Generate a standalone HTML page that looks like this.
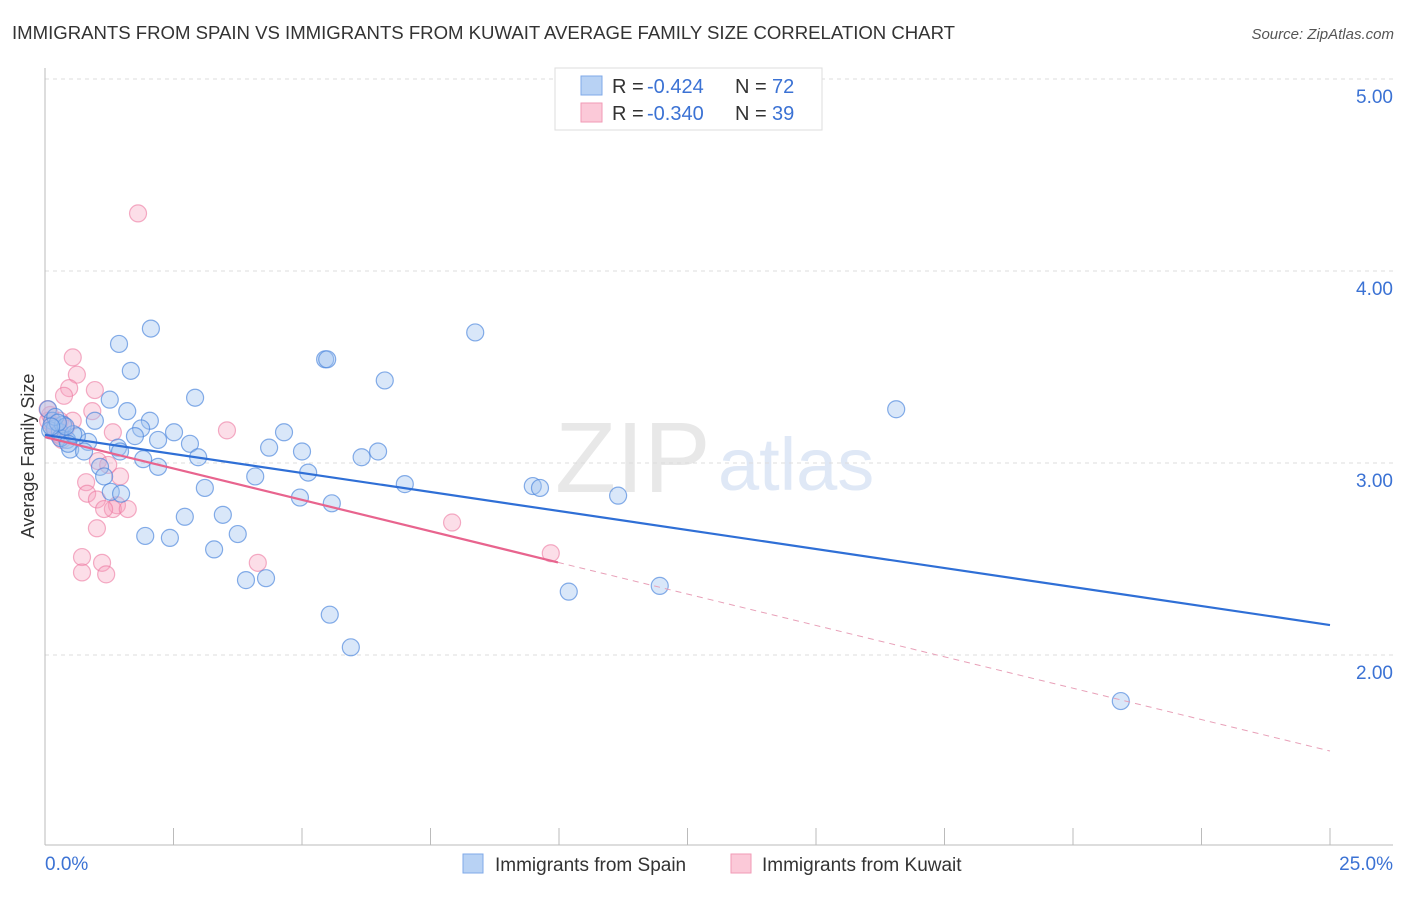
<!DOCTYPE html>
<html><head><meta charset="utf-8"><style>
body{margin:0;background:#fff;font-family:"Liberation Sans",sans-serif;}
svg text{font-family:"Liberation Sans",sans-serif;}
</style></head><body>
<svg id="chart" width="1406" height="892">
<text x="12" y="39" font-size="18.6" fill="#333" textLength="943">IMMIGRANTS FROM SPAIN VS IMMIGRANTS FROM KUWAIT AVERAGE FAMILY SIZE CORRELATION CHART</text>
<text x="1394" y="39" font-size="15" fill="#555" text-anchor="end" font-style="italic">Source: ZipAtlas.com</text>
<text x="555" y="492" font-size="100" fill="#e8e8e8" font-family="Liberation Serif">ZIP</text>
<text x="718" y="490" font-size="74" fill="#dfe8f6">atlas</text>
<g id="grid"></g><g id="axes"></g><g id="marks"></g>
<text x="34" y="456" font-size="18" fill="#333" text-anchor="middle" transform="rotate(-90 34 456)">Average Family Size</text>
<g>
<rect x="555" y="68" width="267" height="62" fill="#fff" stroke="#ddd"/>
<rect x="581" y="76" width="21" height="19" fill="#b8d2f4" stroke="#7fa9e8"/>
<rect x="581" y="103" width="21" height="19" fill="#fbc9d8" stroke="#f19ab6"/>
<text x="612" y="93" font-size="20" fill="#333">R =</text>
<text x="647" y="93" font-size="20" fill="#3b72d4">-0.424</text>
<text x="735" y="93" font-size="20" fill="#333">N =</text>
<text x="772" y="93" font-size="20" fill="#3b72d4">72</text>
<text x="612" y="120" font-size="20" fill="#333">R =</text>
<text x="647" y="120" font-size="20" fill="#3b72d4">-0.340</text>
<text x="735" y="120" font-size="20" fill="#333">N =</text>
<text x="772" y="120" font-size="20" fill="#3b72d4">39</text>
</g>
<g>
<rect x="463" y="854" width="20" height="19" fill="#b8d2f4" stroke="#7fa9e8"/>
<text x="495" y="871" font-size="19" fill="#333">Immigrants from Spain</text>
<rect x="731" y="854" width="20" height="19" fill="#fbc9d8" stroke="#f19ab6"/>
<text x="762" y="871" font-size="19" fill="#333">Immigrants from Kuwait</text>
</g>
</svg>
<script>
const yTicks=[2,3,4,5];
const yTickLabels=["2.00","3.00","4.00","5.00"];
const xLabels=["0.0%","25.0%"];
const spainX=[2.06,1.44,1.67,2.92,1.26,1.60,2.04,0.97,1.87,2.51,2.20,1.75,2.82,1.42,0.84,0.62,0.43,0.49,0.76,1.46,2.98,1.91,2.20,1.07,1.15,3.11,1.28,1.48,2.72,3.46,1.95,2.43,3.75,3.29,3.91,4.30,5.54,5.95,4.09,4.36,4.65,5.00,5.12,4.96,5.58,5.45,5.49,6.61,6.16,6.48,7.00,8.37,9.49,9.63,11.15,10.19,11.96,16.56,20.93,0.06,0.14,0.19,0.29,0.10,0.35,0.20,0.30,0.55,0.40,0.25,0.12,0.45];
const spainY=[3.70,3.62,3.48,3.34,3.33,3.27,3.22,3.22,3.18,3.16,3.12,3.14,3.10,3.08,3.11,3.14,3.12,3.07,3.06,3.06,3.03,3.02,2.98,2.98,2.93,2.87,2.85,2.84,2.72,2.73,2.62,2.61,2.63,2.55,2.39,2.40,2.21,2.04,2.93,3.08,3.16,3.06,2.95,2.82,2.79,3.54,3.54,3.43,3.03,3.06,2.89,3.68,2.88,2.87,2.83,2.33,2.36,3.28,1.76,3.28,3.22,3.18,3.16,3.17,3.20,3.24,3.13,3.15,3.19,3.21,3.19,3.10];
const kuwaitX=[1.81,0.54,0.62,0.47,0.97,0.37,0.92,0.54,3.54,1.32,0.29,0.19,1.03,1.23,1.46,0.80,0.82,1.01,1.40,1.32,1.15,1.61,1.01,0.72,1.11,0.72,1.19,4.14,7.92,9.84,0.06,0.14,0.25,0.33,0.10,0.40,0.20,0.05,0.30];
const kuwaitY=[4.30,3.55,3.46,3.39,3.38,3.35,3.27,3.22,3.17,3.16,3.22,3.17,3.01,2.99,2.93,2.90,2.84,2.81,2.78,2.76,2.76,2.76,2.66,2.51,2.48,2.43,2.42,2.48,2.69,2.53,3.22,3.20,3.15,3.12,3.25,3.18,3.19,3.28,3.14];
const spainTrend=[3.146,2.156];
const kuwaitTrend=[3.135,1.50];
const kuwaitSolidEnd=9.98;
const NS="http://www.w3.org/2000/svg";
const sx=v=>45+v/25*1285, sy=v=>79+(5-v)*192;
function mk(t,a,p){const e=document.createElementNS(NS,t);for(const k in a)e.setAttribute(k,a[k]);p.appendChild(e);return e;}
const grid=document.getElementById('grid'),axes=document.getElementById('axes'),marks=document.getElementById('marks');
yTicks.forEach((t,i)=>{
 const g=mk('line',{x1:45,x2:1393,y1:sy(t),y2:sy(t),stroke:'#ddd','stroke-dasharray':'4,4'},grid);
 
 
 const l=mk('text',{x:1393,y:sy(t)+24,'font-size':19,fill:'#3b72d4','text-anchor':'end'},axes);l.textContent=yTickLabels[i];
 
 
});
mk('line',{x1:45,x2:45,y1:68,y2:845,stroke:'#bbb'},axes);
mk('line',{x1:45,x2:1393,y1:845,y2:845,stroke:'#bbb'},axes);
for(let i=0;i<=10;i++){const t=mk('line',{x1:sx(i*2.5),x2:sx(i*2.5),y1:828,y2:845,stroke:'#bbb'},axes);
 
 }
const x0=mk('text',{x:45,y:870,'font-size':19,fill:'#3b72d4'},axes);x0.textContent=xLabels[0];


const x1=mk('text',{x:1393,y:870,'font-size':19,fill:'#3b72d4','text-anchor':'end'},axes);x1.textContent=xLabels[1];


kuwaitX.forEach((x,i)=>{const c=mk('circle',{cx:sx(x),cy:sy(kuwaitY[i]),r:8.5,fill:'rgba(246,160,188,0.35)',stroke:'rgba(236,120,160,0.6)','stroke-width':1.2},marks);
 
 });
spainX.forEach((x,i)=>{const c=mk('circle',{cx:sx(x),cy:sy(spainY[i]),r:8.5,fill:'rgba(160,196,240,0.4)',stroke:'rgba(70,130,220,0.65)','stroke-width':1.2},marks);
 
 });
const bt=mk('line',{x1:sx(0),y1:sy(spainTrend[0]),x2:sx(25),y2:sy(spainTrend[1]),stroke:'#2f6fd6','stroke-width':2.2},marks);


const ky=x=>kuwaitTrend[0]+(kuwaitTrend[1]-kuwaitTrend[0])*x/25;
const kt=mk('line',{x1:sx(0),y1:sy(ky(0)),x2:sx(kuwaitSolidEnd),y2:sy(ky(kuwaitSolidEnd)),stroke:'#e8648e','stroke-width':2.2},marks);


const kd=mk('line',{x1:sx(kuwaitSolidEnd),y1:sy(ky(kuwaitSolidEnd)),x2:sx(25),y2:sy(ky(25)),stroke:'#e8a0b8','stroke-width':1,'stroke-dasharray':'6,5'},marks);


</script>
</body></html>
